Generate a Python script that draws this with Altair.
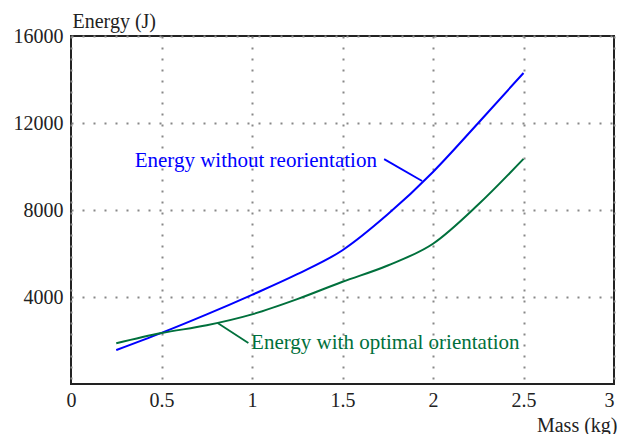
import altair as alt
import pandas as pd

mass = [0.25, 0.5, 0.75, 1.0, 1.25, 1.5, 1.75, 2.0, 2.25, 2.5]
energy_without = [1560, 2350, 3200, 4100, 5050, 6150, 7800, 9750, 12000, 14300]
energy_optimal = [1870, 2340, 2700, 3200, 3900, 4700, 5450, 6450, 8250, 10350]

series_names = ["Energy without reorientation", "Energy with optimal orientation"]
series_colors = ["#0000ff", "#00703c"]

x_ticks = [0, 0.5, 1, 1.5, 2, 2.5, 3]
y_ticks = [4000, 8000, 12000, 16000]

# annotation anchors (data coordinates)
label_mass = [1.69, 0.995]
label_energy = [10250, 1885]
label_align = ["right", "left"]
leader_mass_start = [1.73, 0.81]
leader_energy_start = [10340, 2800]
leader_mass_end = [1.94, 0.98]
leader_energy_end = [9330, 1885]

rows = []
for m, a, b in zip(mass, energy_without, energy_optimal):
    rows.append({"mass": m, "energy": a, "series": series_names[0]})
    rows.append({"mass": m, "energy": b, "series": series_names[1]})
df = pd.DataFrame(rows)

ann = pd.DataFrame({
    "series": series_names,
    "lm": label_mass, "le": label_energy, "align": label_align,
    "m1": leader_mass_start, "e1": leader_energy_start,
    "m2": leader_mass_end, "e2": leader_energy_end,
})

FONT = "Liberation Serif"
xscale = alt.Scale(domain=[0, 3], nice=False, zero=False)
yscale = alt.Scale(domain=[0, 16000], nice=False)
cscale = alt.Scale(domain=series_names, range=series_colors)

x_axis = alt.Axis(values=x_ticks, title="Mass (kg)", grid=True, domain=False, ticks=False,
                  format="~g",
                  labelPadding=6, labelFontSize=20, labelFont=FONT, labelColor="#222",
                  labelFlush=False,
                  labelAlign=alt.expr("datum.value == 3 ? 'right' : 'center'"),
                  gridColor="#888", gridDash=[2, 9], gridWidth=2, gridOpacity=1,
                  titleFont=FONT, titleFontSize=20, titleFontWeight="normal", titleColor="#222",
                  titleAnchor="end", titleAlign="right", titleBaseline="alphabetic",
                  titleX=546, titleY=47)
y_axis = alt.Axis(values=y_ticks, title="Energy (J)", grid=True, domain=False, ticks=False,
                  format="d",
                  labelPadding=8, labelFontSize=20, labelFont=FONT, labelColor="#222",
                  labelFlush=False, labelBaseline="middle",
                  gridColor="#888", gridDash=[2, 9], gridWidth=2, gridOpacity=1,
                  titleFont=FONT, titleFontSize=20, titleFontWeight="normal", titleColor="#222",
                  titleAngle=0, titleAlign="left", titleBaseline="alphabetic",
                  titleX=1, titleY=-9)

lines = alt.Chart(df).mark_line(strokeWidth=2, interpolate="monotone").encode(
    x=alt.X("mass:Q", scale=xscale, axis=x_axis),
    y=alt.Y("energy:Q", scale=yscale, axis=y_axis),
    color=alt.Color("series:N", scale=cscale, legend=None),
    detail="series:N",
)

leaders = alt.Chart(ann).mark_rule(strokeWidth=1.8).encode(
    x=alt.X("m1:Q", scale=xscale), y=alt.Y("e1:Q", scale=yscale),
    x2="m2:Q", y2="e2:Q",
    color=alt.Color("series:N", scale=cscale, legend=None),
)

labels_r = alt.Chart(ann[ann["align"] == "right"]).mark_text(
    font=FONT, fontSize=21, align="right", baseline="middle").encode(
    x=alt.X("lm:Q", scale=xscale), y=alt.Y("le:Q", scale=yscale),
    text="series:N",
    color=alt.Color("series:N", scale=cscale, legend=None),
)
labels_l = alt.Chart(ann[ann["align"] == "left"]).mark_text(
    font=FONT, fontSize=21, align="left", baseline="middle").encode(
    x=alt.X("lm:Q", scale=xscale), y=alt.Y("le:Q", scale=yscale),
    text="series:N",
    color=alt.Color("series:N", scale=cscale, legend=None),
)

chart = alt.layer(lines, leaders, labels_r, labels_l).properties(
    width=543, height=348,
    autosize=alt.AutoSizeParams(type="none"),
    padding={"left": 63, "top": 28, "right": 4, "bottom": 50},
    background="white",
).configure_view(
    stroke="#222", strokeWidth=2,
)

chart.save("out.html", embed_options={"renderer": "svg", "actions": False})
